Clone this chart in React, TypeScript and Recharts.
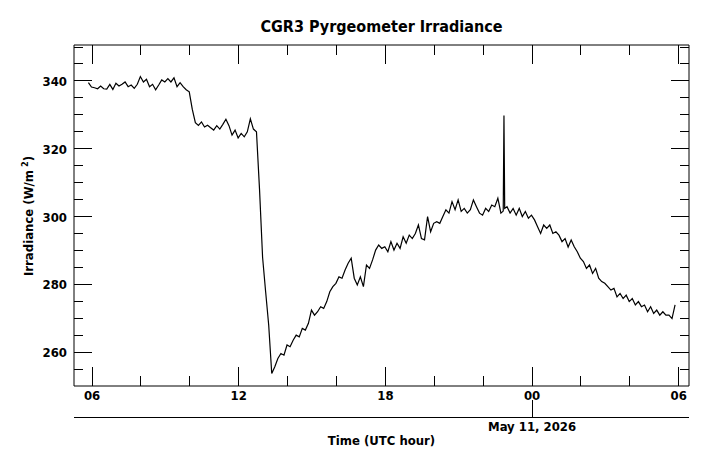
import { LineChart, Line, XAxis, YAxis, ReferenceArea } from "recharts";

const W = 711;
const H = 467;
const PLOT_LEFT = 74;
const PLOT_RIGHT = 689;
const PLOT_TOP = 45;
const PLOT_BOTTOM = 386;
const FONT = "'DejaVu Sans Condensed', 'DejaVu Sans', sans-serif";

// samples every 7.5 min, hours counted from 00 UTC May 10
const START_HOUR = 5.85;
const STEP_HOURS = 0.125;

const irradiance = [
  339.5, 338.2, 338.0, 337.7, 338.5, 337.7, 337.6, 339.0, 337.5, 339.3,
  338.5, 339.0, 339.7, 338.3, 338.8, 337.8, 339.0, 341.3, 339.7, 340.5,
  338.3, 339.0, 337.4, 338.8, 340.3, 339.7, 340.7, 339.7, 340.9, 338.3,
  339.5, 338.3, 337.4, 336.8, 331.6, 327.7, 326.9, 327.9, 326.4, 326.9,
  326.2, 325.5, 326.8, 325.8, 327.2, 328.7, 326.8, 324.0, 325.5, 323.2,
  324.5, 323.5, 325.0, 328.8, 325.8, 325.0, 308.0, 288.0, 277.8, 268.0,
  253.7, 255.7, 258.1, 259.6, 259.1, 262.1, 261.6, 263.5, 265.0, 264.5,
  267.0, 266.5, 268.5, 272.4, 270.9, 271.9, 273.4, 272.9, 274.9, 277.8,
  279.3, 280.3, 282.2, 281.8, 284.2, 286.2, 287.7, 281.8, 279.8, 282.2,
  279.3, 285.7, 284.7, 287.2, 290.1, 291.6, 290.6, 291.1, 289.6, 292.6,
  290.1, 292.1, 290.6, 294.0, 292.1, 294.5, 293.5, 295.0, 297.5, 293.5,
  293.1, 300.0, 295.5, 298.0, 298.5, 298.0, 300.0, 302.0, 301.0, 304.4,
  302.0, 304.9, 301.5, 302.4, 301.0, 302.0, 304.9, 302.9, 301.0, 300.4,
  302.4, 301.5, 303.4, 302.9, 305.4, 301.0, 329.8, 302.9, 301.0, 302.4,
  300.4, 302.4, 300.0, 301.5, 299.5, 300.4, 299.0, 297.0, 295.0, 297.5,
  296.5, 297.5, 295.0, 295.5, 294.5, 292.6, 293.5, 291.0, 293.1, 291.1,
  289.6, 287.7, 286.7, 284.7, 285.7, 283.2, 284.7, 281.8, 280.8, 280.3,
  279.3, 278.3, 278.8, 276.3, 277.3, 275.8, 276.8, 274.9, 275.8, 273.9,
  274.9, 273.4, 273.9, 271.9, 273.4, 271.4, 272.4, 270.9, 271.9, 270.9,
  270.9, 269.9, 273.9,
];

// extra samples either side of the short spike just before midnight
const spikeHours = [22.82, 22.88];
const spikeValues = [301.6, 302.4];

const hourTicks = [6, 8, 10, 12, 14, 16, 18, 20, 22, 24, 26, 28, 30];
const majorHours = [6, 12, 18, 24, 30];
const hourLabels = ["06", "12", "18", "00", "06"];
const DATE_HOUR = 24;
const DATE_LABEL = "May 11, 2026";

const levelTicks = [
  255, 260, 265, 270, 275, 280, 285, 290, 295, 300, 305, 310, 315, 320, 325,
  330, 335, 340, 345, 350,
];
const majorLevels = [260, 280, 300, 320, 340];

const X_DOMAIN: [number, number] = [5.26, 30.42];
const Y_DOMAIN: [number, number] = [250, 350.6];

const data = [
  ...irradiance.map((value, i) => ({ hour: START_HOUR + i * STEP_HOURS, value })),
  ...spikeHours.map((hour, i) => ({ hour, value: spikeValues[i] })),
].sort((a, b) => a.hour - b.hour);

const textStyle = {
  fontFamily: FONT,
  fontStretch: "condensed" as const,
  fontWeight: "bold" as const,
  fill: "#000",
};

const HourTick = (props: any) => {
  const { x, payload } = props;
  const k = majorHours.indexOf(payload.value);
  const len = k >= 0 ? 19 : 10;
  return (
    <g>
      <line x1={x} x2={x} y1={PLOT_BOTTOM} y2={PLOT_BOTTOM - len} stroke="#000" shapeRendering="crispEdges" />
      <line x1={x} x2={x} y1={PLOT_TOP} y2={PLOT_TOP + len} stroke="#000" shapeRendering="crispEdges" />
      {k >= 0 && (
        <text x={x} y={PLOT_BOTTOM + 14} textAnchor="middle" fontSize={13} style={textStyle}>
          {hourLabels[k]}
        </text>
      )}
      {payload.value === DATE_HOUR && (
        <g>
          <line x1={x} x2={x} y1={400} y2={417} stroke="#000" shapeRendering="crispEdges" />
          <text x={x} y={431} textAnchor="middle" fontSize={13} style={textStyle}>
            {DATE_LABEL}
          </text>
        </g>
      )}
    </g>
  );
};

const LevelTick = (props: any) => {
  const { y, payload } = props;
  const k = majorLevels.indexOf(payload.value);
  const len = k >= 0 ? 18 : 9;
  return (
    <g>
      <line x1={PLOT_LEFT} x2={PLOT_LEFT + len} y1={y} y2={y} stroke="#000" shapeRendering="crispEdges" />
      <line x1={PLOT_RIGHT - len} x2={PLOT_RIGHT} y1={y} y2={y} stroke="#000" shapeRendering="crispEdges" />
      {k >= 0 && (
        <text x={PLOT_LEFT - 7} y={y + 5} textAnchor="end" fontSize={13} style={textStyle}>
          {payload.value}
        </text>
      )}
    </g>
  );
};

export default function App() {
  return (
    <div style={{ position: "relative", width: W, height: H, background: "#fff" }}>
      <style>{"body{margin:0}"}</style>
      <LineChart
        width={W}
        height={H}
        data={data}
        margin={{ top: PLOT_TOP, right: W - PLOT_RIGHT, bottom: H - PLOT_BOTTOM - 30, left: PLOT_LEFT - 60 }}
      >
        <XAxis
          dataKey="hour"
          type="number"
          domain={X_DOMAIN}
          allowDataOverflow
          ticks={hourTicks}
          interval={0}
          height={30}
          axisLine={false}
          tickLine={false}
          tick={(p: any) => <HourTick {...p} />}
        />
        <YAxis
          type="number"
          domain={Y_DOMAIN}
          allowDataOverflow
          ticks={levelTicks}
          interval={0}
          width={60}
          axisLine={false}
          tickLine={false}
          tick={(p: any) => <LevelTick {...p} />}
        />
        <ReferenceArea
          x1={X_DOMAIN[0]}
          x2={X_DOMAIN[1]}
          y1={Y_DOMAIN[0]}
          y2={Y_DOMAIN[1]}
          fill="none"
          fillOpacity={0}
          stroke="#000"
          strokeOpacity={1}
          ifOverflow="visible"
        />
        <Line
          type="linear"
          dataKey="value"
          stroke="#000"
          strokeWidth={1.2}
          dot={false}
          isAnimationActive={false}
        />
      </LineChart>
      <svg
        width={W}
        height={H}
        style={{ position: "absolute", left: 0, top: 0, pointerEvents: "none" }}
      >
        <text x={(PLOT_LEFT + PLOT_RIGHT) / 2} y={32} textAnchor="middle" fontSize={16} style={textStyle}>
          CGR3 Pyrgeometer Irradiance
        </text>
        <line x1={PLOT_LEFT} x2={PLOT_RIGHT} y1={417} y2={417} stroke="#000" shapeRendering="crispEdges" />
        <text x={(PLOT_LEFT + PLOT_RIGHT) / 2} y={445} textAnchor="middle" fontSize={13} style={textStyle}>
          Time (UTC hour)
        </text>
        <text x={33} y={216} textAnchor="middle" fontSize={13} style={textStyle} transform="rotate(-90, 33, 216)">
          Irradiance (W/m
          <tspan dx={3} dy={-5} fontSize={9}>2</tspan>
          <tspan dy={5}>)</tspan>
        </text>
      </svg>
    </div>
  );
}
